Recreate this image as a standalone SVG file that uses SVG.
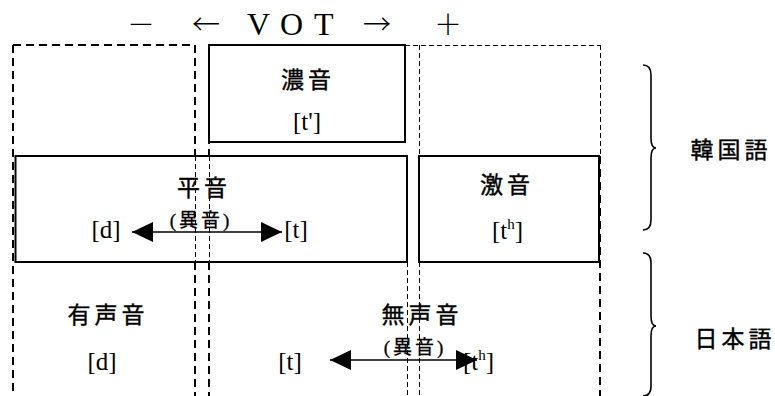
<svg xmlns="http://www.w3.org/2000/svg" width="775" height="396" viewBox="0 0 775 396">
<style>
.bg{fill:#fff}
.thick{fill:none;stroke:#000;stroke-width:2;stroke-dasharray:8 5}
.thin{fill:none;stroke:#000;stroke-width:1;stroke-dasharray:5 3}
.box{fill:none;stroke:#000;stroke-width:2}
.brace{fill:none;stroke:#000;stroke-width:1.6}
.jp{font-family:"Noto Sans CJK JP","Noto Sans CJK SC",sans-serif;font-size:23px;letter-spacing:4px;fill:#000;stroke:#000;stroke-width:0.4;text-anchor:middle}
.paren{font-family:"Liberation Serif","Noto Sans CJK JP",serif;font-size:19px;letter-spacing:3px;fill:#000;stroke:#000;stroke-width:0.3;text-anchor:middle}
.ph{font-family:"Liberation Serif",serif;font-size:25px;fill:#000}
.title{font-family:"Liberation Serif","DejaVu Serif",serif;font-size:32px;fill:#000}
.sym{font-family:"Noto Sans CJK JP",sans-serif;font-weight:300;font-size:28px;fill:#000}
.arr{stroke:#000;stroke-width:1.6;fill:none}
</style>
<defs>
<marker id="ah" markerUnits="userSpaceOnUse" markerWidth="21" markerHeight="20" refX="21" refY="10" orient="auto-start-reverse" viewBox="0 0 21 20">
<path d="M0,0 L21,10 L0,20 Z" fill="#000"/>
</marker>
</defs>
<rect class="bg" x="0" y="0" width="775" height="396"/>

<g id="title">
<text class="title" y="35"><tspan class="sym" x="127">－</tspan><tspan class="sym" x="192">←</tspan><tspan x="247">V</tspan><tspan x="280">O</tspan><tspan x="314">T</tspan><tspan class="sym" x="363">→</tspan><tspan class="sym" x="434">＋</tspan></text>
</g>

<g id="regions">
<line class="thick" x1="13" y1="45" x2="195" y2="45"/>
<line class="thick" x1="13" y1="45" x2="13" y2="396"/>
<line class="thick" x1="195" y1="45" x2="195" y2="156"/>
<line class="thin" x1="195.5" y1="156" x2="195.5" y2="262"/>
<line class="thick" x1="195" y1="262" x2="195" y2="396"/>
<line class="thick" x1="209" y1="45" x2="209" y2="156"/>
<line class="thin" x1="209.5" y1="156" x2="209.5" y2="262"/>
<line class="thick" x1="209" y1="262" x2="209" y2="396"/>
<line class="thin" x1="405" y1="45.5" x2="600" y2="45.5"/>
<line class="thin" x1="419.5" y1="45" x2="419.5" y2="156"/>
<line class="thin" x1="419.5" y1="262" x2="419.5" y2="396"/>
<line class="thin" x1="407.5" y1="262" x2="407.5" y2="396"/>
<line class="thin" x1="600.5" y1="45" x2="600.5" y2="156"/>
<line class="thick" x1="600" y1="156" x2="600" y2="396"/>
</g>

<g id="node-nouon">
<rect class="box" x="209" y="45" width="196" height="97"/>
<text class="jp" x="308" y="88">濃音</text>
<text class="ph" x="307" y="130" text-anchor="middle">[t']</text>
</g>

<g id="node-heion">
<rect class="box" x="15.5" y="156" width="391.5" height="106"/>
<text class="jp" x="204" y="196">平音</text>
<text class="paren" x="201" y="227">(異音)</text>
<text class="ph" x="106" y="238" text-anchor="middle">[d]</text>
<text class="ph" x="296" y="238" text-anchor="middle">[t]</text>
</g>

<g id="node-gekion">
<rect class="box" x="419" y="156" width="180" height="106"/>
<text class="jp" x="507" y="193">激音</text>
<text class="ph" x="492" y="239">[t<tspan font-size="15" dy="-10">h</tspan><tspan dy="10">]</tspan></text>
</g>

<g id="node-yuseion">
<text class="jp" x="108" y="323">有声音</text>
<text class="ph" x="102" y="370" text-anchor="middle">[d]</text>
</g>

<g id="node-museion">
<text class="jp" x="422" y="323">無声音</text>
<text class="paren" x="415" y="354">(異音)</text>
<text class="ph" x="290" y="370" text-anchor="middle">[t]</text>
<text class="ph" x="463" y="370">[t<tspan font-size="15" dy="-10">h</tspan><tspan dy="10">]</tspan></text>
</g>

<g id="connectors">
<line class="arr" x1="132" y1="232" x2="282" y2="232" marker-start="url(#ah)" marker-end="url(#ah)"/>
<line class="arr" x1="330" y1="360" x2="477" y2="360" marker-start="url(#ah)" marker-end="url(#ah)"/>
</g>

<g id="label-korean">
<path class="brace" d="M643,65 Q651,65 651,75 L651,138 Q651,148 656,148 Q651,148 651,158 L651,220 Q651,230 643,230"/>
<text class="jp" x="731" y="158">韓国語</text>
</g>

<g id="label-japanese">
<path class="brace" d="M643,253 Q651,253 651,263 L651,316 Q651,326 656,326 Q651,326 651,336 L651,386 Q651,396 643,396"/>
<text class="jp" x="735" y="347">日本語</text>
</g>
</svg>
